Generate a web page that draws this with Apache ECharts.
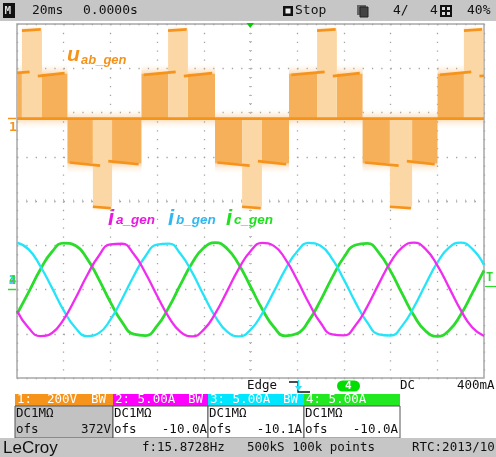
<!DOCTYPE html>
<html>
<head>
<meta charset="utf-8">
<script src="https://cdn.jsdelivr.net/npm/echarts@6/dist/echarts.min.js"></script>
<style>
  html, body { margin: 0; padding: 0; background: #fff; }
  #c { width: 496px; height: 457px; }
</style>
</head>
<body>
<div id="c"></div>
<script>
// ---- phase currents (A), sampled every 5 ms, time 0 = trigger ----
const tSample = [-100,-95,-90,-85,-80,-75,-70,-65,-60,-55,-50,-45,-40,-35,-30,-25,-20,-15,-10,-5,0,5,10,15,20,25,30,35,40,45,50,55,60,65,70,75,80,85,90,95,100];
const iaGen = [-2.41,-4.36,-5.27,-4.91,-3.37,-1.02,1.58,3.79,5.10,5.17,4.01,1.87,-0.71,-3.12,-4.78,-5.29,-4.53,-2.68,-0.18,2.36,4.33,5.26,4.93,3.41,1.07,-1.52,-3.76,-5.08,-5.19,-4.04,-1.93,0.66,3.08,4.76,5.30,4.56,2.73,0.24,-2.31,-4.30,-5.26];
const ibGen = [5.29,4.53,2.63,0.18,-2.36,-4.33,-5.26,-4.93,-3.41,-1.07,1.53,3.76,5.08,5.19,4.04,1.93,-0.66,-3.08,-4.76,-5.30,-4.56,-2.72,-0.24,2.31,4.30,5.26,4.95,3.45,1.12,-1.48,-3.72,-5.07,-5.20,-4.08,-1.98,0.60,3.03,4.73,5.29,4.59,2.77];
const icGen = [-2.77,-0.29,2.26,4.27,5.25,4.96,3.49,1.17,-1.43,-3.68,-5.05,-5.21,-4.11,-2.02,0.55,2.99,4.71,5.30,4.61,2.82,0.34,-2.21,-4.24,-5.24,-4.98,-3.52,-1.23,1.37,3.64,5.03,5.22,4.14,2.07,-0.50,-2.95,-4.69,-5.30,-4.64,-2.86,-0.40,2.16];

// ---- line voltage u_ab (V): multilevel PWM envelope, one entry per half cycle ----
const halfStart = [-110.0, -78.4, -46.7, -15.2, 16.5, 48.0, 80.1];
const halfEnd   = [-78.4, -46.7, -15.2, 16.5, 48.0, 80.1, 111.8];
const halfSign  = [1, -1, 1, -1, 1, -1, 1];
const peakStart = [-97.9, -67.5, -35.3, -3.6, 28.5, 59.7, 91.4];
const peakEnd   = [-89.3, -59.3, -26.8, 4.9, 37.0, 69.2, 99.7];
const stepLeft  = [198, 212];   // first level, before the top step
const stepRight = [192, 206];   // first level, after the top step
const stepPeak  = [398, 404];   // second level
const stepFill  = 203;
const hazeDepth = 44;

// channel settings
const voltPerDiv = 200, voltOffset = 372;
const ampPerDiv = 5, ampOffset = -10;
const divsY = 8, msPerDiv = 20;

const ORANGE = '#f6931b';
const MAGENTA = '#f02cf0';
const CYAN = '#26e4f8';
const GREEN = '#2cdc2c';

// build the voltage envelope pieces: [t0, t1, vFrom, vTo, style]
const uFills = [], uHaze = [], uLines = [];
halfStart.forEach((s0, k) => {
  const sg = halfSign[k], e0 = halfEnd[k], p0 = peakStart[k], p1 = peakEnd[k];
  const pc = (p0 + p1) / 2;
  uHaze.push([s0, e0, 0, -sg * hazeDepth, 0]);
  uHaze.push([s0, p0, sg * stepFill, sg * (stepFill + hazeDepth), 0]);
  uHaze.push([p1, e0, sg * stepFill, sg * (stepFill + hazeDepth), 0]);
  uHaze.push([p0, p1, sg * stepPeak[0], sg * (stepPeak[0] + hazeDepth * 0.5), 0]);
  uFills.push([s0, p0, 0, sg * stepFill, 1]);
  uFills.push([p1, e0, 0, sg * stepFill, 1]);
  uFills.push([p0, p1, 0, sg * stepPeak[0], 2]);
  uLines.push([s0 + 1, sg * stepLeft[0], pc - 1, sg * stepLeft[1]]);
  uLines.push([pc + 2.5, sg * stepRight[0], e0 - 1.2, sg * stepRight[1]]);
  uLines.push([p0, sg * stepPeak[0], p1 - 0.5, sg * stepPeak[1]]);
});
uLines.push([halfStart[0], 0, halfEnd[halfEnd.length - 1], 0]);

const fillColors = [null, '#f7b05a', '#fcd7a6'];

function rectItem(params, api) {
  const a = api.coord([api.value(0), api.value(2)]);
  const b = api.coord([api.value(1), api.value(3)]);
  const kind = api.value(4);
  let fill = fillColors[kind];
  if (kind === 0) {
    // spike fringe: strongest next to the trace, fading outward
    const up = b[1] < a[1];
    fill = new echarts.graphic.LinearGradient(0, up ? 1 : 0, 0, up ? 0 : 1, [
      { offset: 0, color: 'rgba(249,170,80,0.42)' },
      { offset: 0.5, color: 'rgba(250,190,120,0.18)' },
      { offset: 1, color: 'rgba(252,210,160,0)' }
    ]);
  }
  return {
    type: 'rect',
    shape: { x: a[0], y: Math.min(a[1], b[1]), width: b[0] - a[0], height: Math.abs(b[1] - a[1]) },
    style: { fill }
  };
}
function segItem(params, api) {
  const a = api.coord([api.value(0), api.value(1)]);
  const b = api.coord([api.value(2), api.value(3)]);
  return {
    type: 'line',
    shape: { x1: a[0], y1: a[1], x2: b[0], y2: b[1] },
    style: { stroke: ORANGE, lineWidth: 2.7, lineCap: 'butt' }
  };
}

const pair = arr => tSample.map((t, k) => [t, arr[k]]);

// ---- screen furniture ----
const UI = '"DejaVu Sans Mono"';
function txt(x, y, s, fill, font, align) {
  return { type: 'text', x, y, z: 100, silent: true,
    style: { text: s, fill, font, align: align || 'left', textAlign: align || 'left',
             verticalAlign: 'middle', textVerticalAlign: 'middle' } };
}
function box(x, y, w, h, fill, stroke) {
  return { type: 'rect', z: 99, silent: true, shape: { x, y, width: w, height: h },
    style: { fill, stroke: stroke || null, lineWidth: stroke ? 1 : 0 } };
}
function poly(points, fill) {
  return { type: 'polygon', z: 100, silent: true, shape: { points }, style: { fill } };
}
function seg(x1, y1, x2, y2, stroke, w) {
  return { type: 'line', z: 100, silent: true, shape: { x1, y1, x2, y2 }, style: { stroke, lineWidth: w || 1 } };
}
const f13 = '13px ' + UI, f12 = '12.5px ' + UI;
const lf = n => 'italic bold ' + n + 'px "Liberation Sans"';

const furniture = [
  // top status bar
  box(0, 0, 496, 21, '#c6c6c6'),
  box(3, 3, 12, 15, '#111'),
  txt(4.5, 11, 'M', '#ddd', 'bold 11px ' + UI),
  txt(32, 11, msPerDiv + 'ms', '#111', f13),
  txt(83, 11, '0.0000s', '#111', f13),
  box(283, 6, 10, 10, '#111'),
  box(285.5, 8.5, 5, 5, '#eee'),
  txt(295, 11, 'Stop', '#111', f13),
  box(357, 5, 9, 10, '#666'),
  box(360, 7, 8, 10, '#444', '#222'),
  txt(393, 11, '4/', '#111', f13),
  txt(430, 11, '4', '#111', f13),
  box(440, 5, 12, 12, '#111'),
  box(442, 7, 3, 3, '#ddd'), box(447, 7, 3, 3, '#ddd'),
  box(442, 12, 3, 3, '#ddd'), box(447, 12, 3, 3, '#ddd'),
  txt(467, 11, '40%', '#111', f13),
  // trigger position marker
  poly([[246.5, 23], [254, 23], [250.2, 28]], '#00cc00'),
  // left channel markers
  seg(8, 118.5, 16, 118.5, ORANGE, 1.5),
  txt(9, 127.5, '1', ORANGE, 'bold 13px ' + UI),
  txt(9, 281, '2', MAGENTA, 'bold 12px ' + UI),
  txt(9, 281, '3', CYAN, 'bold 12px ' + UI),
  txt(9, 281, '4', GREEN, 'bold 12px ' + UI),
  seg(8, 289.5, 16, 289.5, GREEN, 1.5),
  // trigger level marker
  txt(486, 277.5, 'T', GREEN, 'bold 12px ' + UI),
  seg(485, 286.5, 496, 286.5, GREEN, 1.2),
  // trigger line
  txt(247, 386, 'Edge', '#111', f12),
  { type: 'polyline', z: 100, silent: true, shape: { points: [[289, 382], [298, 382], [298, 392], [310, 392]] },
    style: { stroke: '#111', lineWidth: 1.3, fill: null } },
  seg(298.5, 380, 298.5, 388, CYAN, 1.5),
  poly([[295, 386], [302, 386], [298.5, 391]], CYAN),
  { type: 'rect', z: 99, silent: true, shape: { x: 337, y: 380.5, width: 23, height: 11, r: 5.5 }, style: { fill: '#00dd00' } },
  txt(345, 386, '4', '#fff', 'bold 11px ' + UI),
  txt(400, 386, 'DC', '#111', f12),
  txt(457, 386, '400mA', '#111', f12),
  // channel boxes
  box(15, 394, 98, 12, ORANGE),
  box(15, 406, 98, 32, '#c2c2c2', '#555'),
  box(113, 394, 95, 12, '#ff00ff'),
  box(113, 406, 95, 32, '#fff', '#555'),
  box(208, 394, 96, 12, '#00e6ff'),
  box(208, 406, 96, 32, '#fff', '#555'),
  box(304, 394, 96, 12, '#22e822'),
  box(304, 406, 96, 32, '#fff', '#555'),
  txt(17, 400, '1:', '#fff', f12),
  txt(47, 400, voltPerDiv + 'V', '#fff', f12),
  txt(91, 400, 'BW', '#fff', f12),
  txt(115, 400, '2: 5.00A', '#fff', f12),
  txt(188, 400, 'BW', '#fff', f12),
  txt(210, 400, '3: 5.00A', '#fff', f12),
  txt(283, 400, 'BW', '#fff', f12),
  txt(306, 400, '4: 5.00A', '#fff', f12),
  txt(16, 414, 'DC1MΩ', '#111', f12),
  txt(114, 414, 'DC1MΩ', '#111', f12),
  txt(209, 414, 'DC1MΩ', '#111', f12),
  txt(305, 414, 'DC1MΩ', '#111', f12),
  txt(16, 430, 'ofs', '#111', f12),
  txt(111, 430, voltOffset + 'V', '#111', f12, 'right'),
  txt(114, 430, 'ofs', '#111', f12),
  txt(207, 430, '-10.0A', '#111', f12, 'right'),
  txt(209, 430, 'ofs', '#111', f12),
  txt(302, 430, '-10.1A', '#111', f12, 'right'),
  txt(305, 430, 'ofs', '#111', f12),
  txt(398, 430, '-10.0A', '#111', f12, 'right'),
  // bottom status bar
  box(0, 438, 496, 19, '#c6c6c6'),
  txt(3, 448, 'LeCroy', '#111', '17px "Liberation Sans"'),
  txt(142, 448, 'f:15.8728Hz', '#111', f12),
  txt(247, 448, '500kS 100k points', '#111', f12),
  txt(412, 448, 'RTC:2013/10', '#111', f12),
  // trace names
  txt(67, 54.8, 'u', ORANGE, lf(21)),
  txt(81, 60.5, 'ab_gen', ORANGE, lf(13)),
  txt(108, 219.4, 'i', '#e81ae0', lf(22)),
  txt(116, 220.3, 'a_gen', '#e81ae0', lf(13.5)),
  txt(168, 219.4, 'i', '#30b8f0', lf(22)),
  txt(176, 220.3, 'b_gen', '#30b8f0', lf(13.5)),
  txt(226, 219.4, 'i', '#1ee01e', lf(22)),
  txt(234, 220.3, 'c_gen', '#1ee01e', lf(13.5))
];

const gridColor = '#a4a4a4';
const hidden = { axisLine: { show: false }, axisTick: { show: false }, axisLabel: { show: false }, splitLine: { show: false } };

// centre rulers with 0.2 div ticks
function ruler(kind, offset, inside) {
  return Object.assign({
    type: 'value', min: kind === 'x' ? -100 : -divsY / 2, max: kind === 'x' ? 100 : divsY / 2,
    interval: kind === 'x' ? msPerDiv : 1, offset, silent: true,
    axisLine: { show: false }, axisLabel: { show: false }, splitLine: { show: false },
    axisTick: { show: true, inside, length: 2, lineStyle: { color: '#b4b4b4', width: 1 } },
    minorTick: { show: true, splitNumber: 5, length: 1.5, lineStyle: { color: '#bcbcbc', width: 1 } }
  }, kind === 'x' ? { position: 'bottom' } : { position: 'left' });
}

const option = {
  animation: false,
  backgroundColor: '#fff',
  grid: { left: 17, top: 24, width: 467, height: 354, show: true, borderColor: '#a8a8a8', borderWidth: 1.5, backgroundColor: '#fff' },
  xAxis: [
    { type: 'value', min: -100, max: 100, interval: msPerDiv, axisLine: { show: false }, axisTick: { show: false }, axisLabel: { show: false },
      splitLine: { show: true, lineStyle: { color: gridColor, width: 1.3, type: [1.3, 7.55] } } },
    ruler('x', -177, true),
    ruler('x', -177, false)
  ],
  yAxis: [
    { type: 'value', min: -divsY / 2, max: divsY / 2, interval: 1, axisLine: { show: false }, axisTick: { show: false }, axisLabel: { show: false },
      splitLine: { show: true, lineStyle: { color: gridColor, width: 1.3, type: [1.3, 8.04] } } },
    Object.assign({ type: 'value', min: -voltOffset - voltPerDiv * divsY / 2, max: -voltOffset + voltPerDiv * divsY / 2, show: false }, hidden),
    Object.assign({ type: 'value', min: -ampOffset - ampPerDiv * divsY / 2, max: -ampOffset + ampPerDiv * divsY / 2, show: false }, hidden),
    ruler('y', -233.5, true),
    ruler('y', -233.5, false)
  ],
  series: [
    { type: 'custom', name: 'u haze', xAxisIndex: 0, yAxisIndex: 1, clip: true, silent: true, renderItem: rectItem,
      encode: { x: [0, 1], y: [2, 3] }, data: uHaze, z: 2 },
    { type: 'custom', name: 'u fill', xAxisIndex: 0, yAxisIndex: 1, clip: true, silent: true, renderItem: rectItem,
      encode: { x: [0, 1], y: [2, 3] }, data: uFills, z: 3 },
    { type: 'custom', name: 'u_ab_gen', xAxisIndex: 0, yAxisIndex: 1, clip: true, silent: true, renderItem: segItem,
      encode: { x: [0, 2], y: [1, 3] }, data: uLines, z: 4 },
    { type: 'line', name: 'i_c_gen', xAxisIndex: 0, yAxisIndex: 2, data: pair(icGen), smooth: true, symbol: 'none',
      lineStyle: { color: GREEN, width: 2.8 }, z: 5 },
    { type: 'line', name: 'i_b_gen', xAxisIndex: 0, yAxisIndex: 2, data: pair(ibGen), smooth: true, symbol: 'none',
      lineStyle: { color: CYAN, width: 2.3 }, z: 6 },
    { type: 'line', name: 'i_a_gen', xAxisIndex: 0, yAxisIndex: 2, data: pair(iaGen), smooth: true, symbol: 'none',
      lineStyle: { color: MAGENTA, width: 2.3 }, z: 7 }
  ],
  graphic: furniture
};

const chart = echarts.init(document.getElementById('c'));
chart.setOption(option);
</script>
</body>
</html>
